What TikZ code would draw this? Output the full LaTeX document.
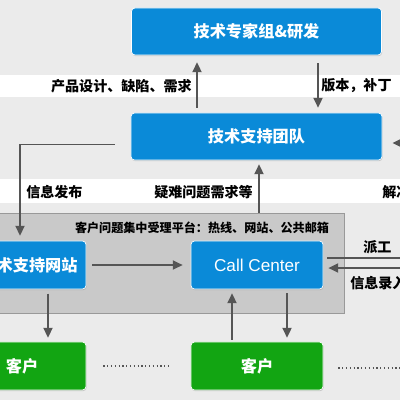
\documentclass[tikz,border=0pt]{standalone}
\usepackage{fontspec}
\setmainfont{Noto Sans CJK SC}
\newfontfamily\latinfont{Liberation Sans}
\usetikzlibrary{calc}
\usetikzlibrary{arrows.meta}
\usetikzlibrary{shadows}
\definecolor{bblue}{HTML}{0A8AD8}
\definecolor{bgreen}{HTML}{12A512}
\definecolor{bgray}{HTML}{EBEBEB}
\definecolor{pgray}{HTML}{C9C9C9}
\definecolor{agray}{HTML}{555555}
\tikzset{box/.style = {draw=white, line width=0.5pt, rounded corners=2.5pt,
                       text=white, inner sep=0,
                       font=\bfseries\fontsize{11.5}{12}\selectfont,
                       drop shadow={opacity=0.35, shadow xshift=0.4pt,
                                    shadow yshift=-0.8pt}}}
\tikzset{bluebox/.style = {box, fill=bblue}}
\tikzset{greenbox/.style = {box, fill=bgreen}}
\tikzset{platform/.style = {fill=pgray, draw=gray!80, line width=0.6pt,
                            inner sep=0}}
\tikzset{lbl/.style = {font=\bfseries\fontsize{10}{11}\selectfont, inner sep=0}}
\tikzset{arr/.style = {draw=agray, line width=1.3pt,
                       -{Triangle[length=7pt, width=6.5pt]}}}
\tikzset{dots/.style = {draw=agray, line width=0.9pt,
                        dash pattern=on 0.9pt off 1.8pt}}

\begin{document}
\begin{tikzpicture}[x=0.025cm, y=-0.025cm]
  \useasboundingbox (0,0) rectangle (400,400);
  \fill[bgray] (0,0) rectangle (400,400);
  \fill[white] (0,75) rectangle (400,97);
  \fill[white] (0,179) rectangle (400,203);

  \node[platform, minimum width=8.85cm, minimum height=2.5cm] (platform) at (167,263) {};
  \node[font=\bfseries\fontsize{8.6}{9}\selectfont, inner sep=0] (platlbl) at (202,228)
    {客户问题集中受理平台：热线、网站、公共邮箱};

  \node[bluebox, minimum width=6.25cm, minimum height=1.175cm] (expert) at (256.5,31.5) {技术专家组\&研发};
  \node[bluebox, minimum width=6.275cm, minimum height=1.175cm] (support) at (256.5,136.5) {技术支持团队};
  \node[bluebox, minimum width=2.85cm, minimum height=1.2cm] (web) at (29,265) {技术支持网站};
  \node[bluebox, minimum width=3.3cm, minimum height=1.2cm,
        font=\latinfont\fontsize{12.2}{13}\selectfont] (cc) at (257,265) {Call Center};
  \node[greenbox, minimum width=3.2cm, minimum height=1.2cm] (cust1) at (22,366) {客户};
  \node[greenbox, minimum width=3.3cm, minimum height=1.2cm] (cust2) at (257,366) {客户};

  \node[lbl, anchor=east] (design) at (192,86) {产品设计、缺陷、需求};
  \node[lbl, anchor=west] (patch) at (321,86) {版本，补丁};
  \node[lbl, anchor=west] (publish) at (26,192) {信息发布};
  \node[lbl, anchor=east] (hard) at (253,192) {疑难问题需求等};
  \node[lbl, anchor=west] (solve) at (382,192) {解决方案};
  \node[lbl, anchor=west] (send) at (363,247) {派工};
  \node[lbl, anchor=west] (record) at (350,283) {信息录入};

  \coordinate (fixin) at (430,143);
  \coordinate (dispatch) at (440,258);
  \coordinate (entry) at (440,268);

  \draw[arr] ($(support.north)+(-59.5,-5)$) -- ($(expert.south)+(-59.5,7)$);
  \draw[arr] ($(expert.south)+(61.5,8)$) -- ($(support.north)+(61.5,-5)$);
  \draw[arr] ($(support.west)+(-16,8)$) -| ($(web.north)+(-9,-5)$);
  \draw[arr] ($(platform.north -| cc.north)+(2,0)$) -- ($(support.south -| cc.north)+(2,4)$);
  \draw[arr] (fixin) -- ($(fixin -| support.east)+(10,0)$);
  \draw[arr] ($(web.east)+(6,0)$) -- ($(cc.west)+(-8,0)$);
  \draw[arr] ($(cust1.north)+(26,-48)$) -- ($(cust1.north)+(26,-4)$);
  \draw[arr] ($(cust2.north)+(-25,-2)$) -- ($(cc.south)+(-25,4)$);
  \draw[arr] ($(cc.south)+(30,4)$) -- ($(cust2.north)+(30,-4)$);
  \draw[arr] ($(cc.east)+(4,-7)$) -- (dispatch);
  \draw[arr] (entry) -- ($(cc.east)+(5,3)$);

  \draw[dots] ($(cust1.east)+(17,0)$) -- ($(cust2.west)+(-19,0)$);
  \draw[dots] ($(cust2.east)+(15,2)$) -- ++(90,0);
\end{tikzpicture}
\end{document}
